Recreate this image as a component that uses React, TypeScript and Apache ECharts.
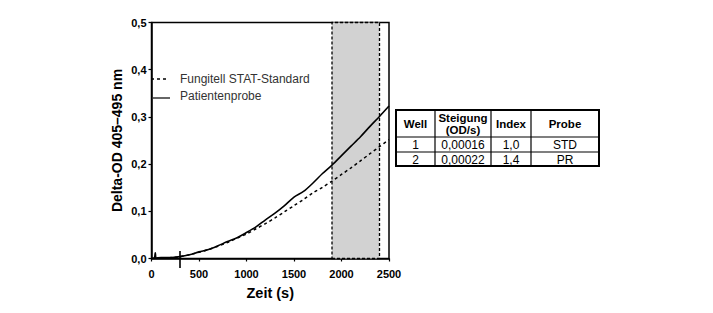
import React, { useEffect, useRef } from "react";
import * as echarts from "echarts";

const timeS = [0, 30, 40, 50, 100, 200, 300, 400, 500, 600, 700, 800, 900, 1000, 1100, 1200, 1300, 1400, 1500, 1600, 1700, 1800, 1900, 2000, 2100, 2200, 2300, 2400, 2500];
const patient = [0, 0.001, 0.012, 0.001, 0.002, 0.002, 0.004, 0.008, 0.014, 0.019, 0.027, 0.036, 0.044, 0.055, 0.067, 0.082, 0.096, 0.112, 0.13, 0.142, 0.16, 0.18, 0.198, 0.218, 0.238, 0.258, 0.28, 0.301, 0.323];
const standard = [0, 0.001, 0.003, 0.001, 0.001, 0.002, 0.004, 0.008, 0.013, 0.019, 0.026, 0.034, 0.043, 0.052, 0.063, 0.074, 0.086, 0.099, 0.112, 0.125, 0.139, 0.151, 0.164, 0.178, 0.192, 0.207, 0.222, 0.237, 0.252];
const shadeRange = [1900, 2400];
const startMarker = [300, 0];
const legendNames = ["Fungitell STAT-Standard", "Patientenprobe"];
const tableHeader = ["Well", "Steigung\n(OD/s)", "Index", "Probe"];
const tableRows = [
  ["1", "0,00016", "1,0", "STD"],
  ["2", "0,00022", "1,4", "PR"],
];

const FONT = "Liberation Sans, Arial, sans-serif";

function buildTable() {
  const colX = [396, 435, 491, 531, 599];
  const rowY = [110, 137, 152, 166];
  const els: any[] = [];
  els.push({
    type: "rect",
    shape: { x: colX[0], y: rowY[0], width: colX[4] - colX[0], height: rowY[3] - rowY[0] },
    style: { fill: "#fff", stroke: "#000", lineWidth: 2 },
    z: 10,
  });
  for (let i = 1; i < colX.length - 1; i++) {
    els.push({ type: "line", shape: { x1: colX[i], y1: rowY[0], x2: colX[i], y2: rowY[3] }, style: { stroke: "#000", lineWidth: 1.2 }, z: 11 });
  }
  for (let j = 1; j < rowY.length - 1; j++) {
    els.push({ type: "line", shape: { x1: colX[0], y1: rowY[j], x2: colX[4], y2: rowY[j] }, style: { stroke: "#000", lineWidth: 1.2 }, z: 11 });
  }
  tableHeader.forEach((h, i) => {
    els.push({
      type: "text",
      x: (colX[i] + colX[i + 1]) / 2,
      y: (rowY[0] + rowY[1]) / 2 + 0.5,
      style: { text: h, font: `bold 11.5px ${FONT}`, fill: "#000", align: "center", verticalAlign: "middle", lineHeight: 12 },
      z: 12,
    });
  });
  tableRows.forEach((r, j) => {
    r.forEach((c, i) => {
      els.push({
        type: "text",
        x: (colX[i] + colX[i + 1]) / 2,
        y: (rowY[j + 1] + rowY[j + 2]) / 2 + 0.5,
        style: { text: c, font: `12px ${FONT}`, fill: "#000", align: "center", verticalAlign: "middle" },
        z: 12,
      });
    });
  });
  return els;
}

export default function App() {
  const ref = useRef<HTMLDivElement>(null);
  useEffect(() => {
    if (!ref.current) return;
    const chart = echarts.init(ref.current, undefined, { renderer: "svg" });
    const legendEls: any[] = [
      { type: "line", shape: { x1: 151, y1: 79, x2: 167, y2: 79 }, style: { stroke: "#000", lineWidth: 1.5, lineDash: [3, 3] }, z: 10 },
      { type: "text", x: 180, y: 79, style: { text: legendNames[0], font: `12px ${FONT}`, fill: "#333", verticalAlign: "middle" }, z: 10 },
      { type: "line", shape: { x1: 153, y1: 98, x2: 170, y2: 98 }, style: { stroke: "#333", lineWidth: 1.5 }, z: 10 },
      { type: "text", x: 180, y: 96, style: { text: legendNames[1], font: `12px ${FONT}`, fill: "#333", verticalAlign: "middle" }, z: 10 },
    ];
    chart.setOption({
      animation: false,
      backgroundColor: "#fff",
      grid: { left: 151.5, right: 324, top: 22.5, bottom: 54.5, show: true, borderColor: "#000", borderWidth: 1.5, backgroundColor: "transparent" },
      xAxis: {
        type: "value",
        min: 0,
        max: 2500,
        interval: 500,
        name: "Zeit (s)",
        nameLocation: "middle",
        nameGap: 27,
        nameTextStyle: { fontFamily: FONT, fontWeight: "bold", fontSize: 14.5, color: "#000" },
        axisLine: { lineStyle: { color: "#000", width: 1.5 } },
        axisTick: { show: true, length: 3, lineStyle: { color: "#000", width: 1.2 } },
        axisLabel: { fontFamily: FONT, fontWeight: "bold", fontSize: 11, color: "#000", margin: 10, formatter: (v: number) => String(v) },
        splitLine: { show: false },
      },
      yAxis: {
        type: "value",
        min: 0,
        max: 0.5,
        interval: 0.1,
        name: "Delta-OD 405–495 nm",
        nameLocation: "middle",
        nameGap: 28,
        nameRotate: 90,
        nameTextStyle: { fontFamily: FONT, fontWeight: "bold", fontSize: 14, color: "#000" },
        axisLine: { lineStyle: { color: "#000", width: 1.5 } },
        axisTick: { show: true, length: 3, lineStyle: { color: "#000", width: 1.2 } },
        axisLabel: { fontFamily: FONT, fontWeight: "bold", fontSize: 11, color: "#000", margin: 5, formatter: (v: number) => v.toFixed(1).replace(".", ",") },
        splitLine: { show: false },
      },
      series: [
        {
          type: "line",
          name: legendNames[0],
          data: timeS.map((t, i) => [t, standard[i]]),
          showSymbol: false,
          smooth: 0.3,
          lineStyle: { color: "#000", width: 1.5, type: [3, 3] },
          z: 5,
          markArea: {
            silent: true,
            itemStyle: { color: "#d2d2d2", borderColor: "#000", borderWidth: 1.3, borderType: [3, 2] },
            data: [[{ xAxis: shadeRange[0] }, { xAxis: shadeRange[1] }]],
          },
        },
        {
          type: "line",
          name: legendNames[1],
          data: timeS.map((t, i) => [t, patient[i]]),
          showSymbol: false,
          smooth: 0.3,
          lineStyle: { color: "#000", width: 1.6 },
          z: 6,
        },
        {
          type: "scatter",
          data: [startMarker],
          symbol: "rect",
          symbolSize: [2, 17],
          symbolOffset: [0, 1],
          clip: false,
          itemStyle: { color: "#000" },
          z: 7,
        },
      ],
      graphic: [...legendEls, ...buildTable()],
    });
    return () => chart.dispose();
  }, []);
  return <div ref={ref} style={{ position: "fixed", left: 0, top: 0, width: 713, height: 313, background: "#fff" }} />;
}
